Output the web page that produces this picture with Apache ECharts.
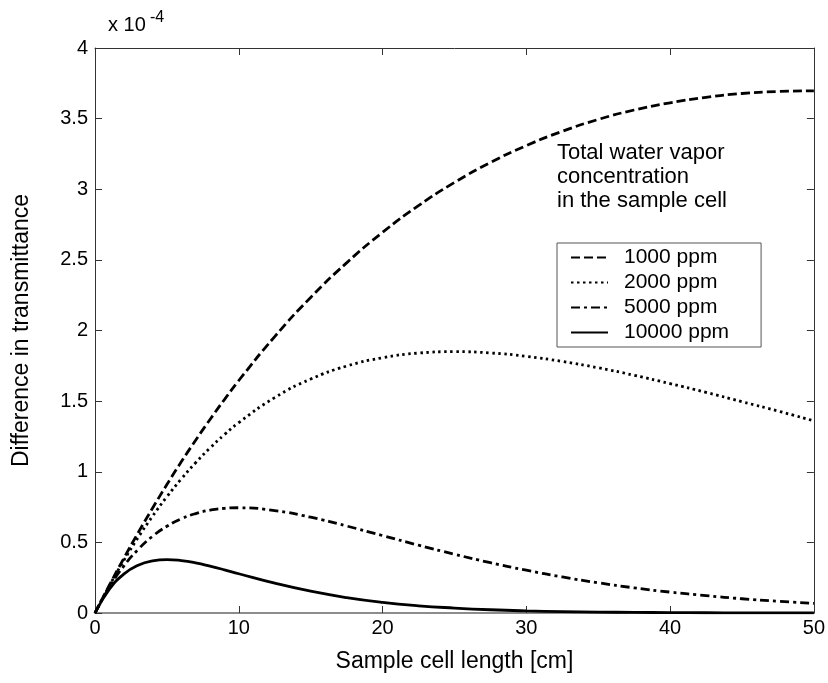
<!DOCTYPE html>
<html>
<head>
<meta charset="utf-8">
<script src="https://cdn.jsdelivr.net/npm/echarts@6/dist/echarts.min.js"></script>
<style>
  html, body { margin: 0; padding: 0; background: #fff; }
  #chart { width: 828px; height: 683px; }
</style>
</head>
<body>
<div id="chart"></div>
<script>
// Sample cell length [cm]
const cellLength = [0, 1, 2, 3, 4, 5, 6, 7, 8, 9, 10, 12.5, 15, 17.5, 20, 22.5, 25, 27.5, 30,
  32.5, 35, 37.5, 40, 42.5, 45, 47.5, 50];

// Difference in transmittance, in units of 1e-4
const ppm1000 = [0, 0.197, 0.386, 0.568, 0.742, 0.909, 1.070, 1.223, 1.370, 1.511, 1.646,
  1.957, 2.234, 2.479, 2.695, 2.884, 3.048, 3.189, 3.309, 3.410, 3.494, 3.561, 3.612,
  3.651, 3.678, 3.692, 3.697];
const ppm2000 = [0, 0.193, 0.371, 0.535, 0.685, 0.823, 0.949, 1.064, 1.168, 1.263, 1.348,
  1.525, 1.656, 1.748, 1.807, 1.840, 1.850, 1.841, 1.817, 1.781, 1.736, 1.683, 1.624,
  1.562, 1.496, 1.430, 1.360];
const ppm5000 = [0, 0.183, 0.332, 0.450, 0.543, 0.614, 0.667, 0.704, 0.728, 0.741, 0.745,
  0.725, 0.678, 0.616, 0.548, 0.480, 0.416, 0.356, 0.303, 0.255, 0.214, 0.178, 0.148,
  0.123, 0.101, 0.083, 0.068];
const ppm10000 = [0, 0.168, 0.275, 0.338, 0.369, 0.378, 0.371, 0.355, 0.332, 0.306, 0.278,
  0.211, 0.154, 0.109, 0.075, 0.051, 0.035, 0.023, 0.015, 0.010, 0.0065, 0.0042, 0.0028,
  0.0017, 0.0011, 0.0007, 0.0005];

const seriesNames = ['1000 ppm', '2000 ppm', '5000 ppm', '10000 ppm'];
const xTicks = [0, 10, 20, 30, 40, 50];
const yTicks = [0, 0.5, 1, 1.5, 2, 2.5, 3, 3.5, 4];

const FONT = 'Liberation Sans, Arial, Helvetica, sans-serif';
const INK = '#000';

const pairs = ys => cellLength.map((x, i) => [x, ys[i]]);

const dashStyles = [
  [9, 4],        // dashed
  [2.5, 3.5],    // dotted
  [9, 4, 3, 4],  // dash-dot
  'solid'
];
const values = [ppm1000, ppm2000, ppm5000, ppm10000];

const chart = echarts.init(document.getElementById('chart'), null, { renderer: 'canvas' });

const frameAxis = {
  axisLine: { show: true, onZero: false, lineStyle: { color: '#333', width: 1 } },
  axisTick: { show: true, inside: true, length: 7, lineStyle: { color: '#333', width: 1 } },
  splitLine: { show: false }
};

chart.setOption({
  animation: false,
  backgroundColor: '#fff',
  grid: { left: 95, right: 14, top: 48, bottom: 70, containLabel: false },
  xAxis: [
    Object.assign({}, frameAxis, {
      type: 'value', min: xTicks[0], max: xTicks[xTicks.length - 1], interval: 10,
      position: 'bottom',
      axisLine: { show: true, onZero: false, lineStyle: { color: '#8c8c8c', width: 2 } },
      axisLabel: { show: true, margin: 5, color: INK, fontFamily: FONT, fontSize: 20 },
      name: 'Sample cell length [cm]', nameLocation: 'middle', nameGap: 37,
      nameTextStyle: { color: INK, fontFamily: FONT, fontSize: 23 }
    }),
    Object.assign({}, frameAxis, {
      type: 'value', min: xTicks[0], max: xTicks[xTicks.length - 1], interval: 10,
      position: 'top', axisLabel: { show: false }
    })
  ],
  yAxis: [
    Object.assign({}, frameAxis, {
      type: 'value', min: yTicks[0], max: yTicks[yTicks.length - 1], interval: 0.5,
      position: 'left',
      axisLabel: { show: true, margin: 7, color: INK, fontFamily: FONT, fontSize: 20 },
      name: 'Difference in transmittance', nameLocation: 'middle', nameGap: 62,
      nameTextStyle: { color: INK, fontFamily: FONT, fontSize: 23 }
    }),
    Object.assign({}, frameAxis, {
      type: 'value', min: yTicks[0], max: yTicks[yTicks.length - 1], interval: 0.5,
      position: 'right', axisLabel: { show: false }
    })
  ],
  legend: {
    orient: 'vertical',
    left: 557, top: 243,
    data: seriesNames,
    itemWidth: 37, itemHeight: 14, itemGap: 4,
    padding: [4, 32, 4, 13],
    backgroundColor: '#fff',
    borderColor: '#555', borderWidth: 1, borderRadius: 0,
    itemStyle: { color: 'transparent', borderColor: 'transparent', borderWidth: 0, opacity: 0 },
    textStyle: { color: INK, fontFamily: FONT, fontSize: 21, lineHeight: 20, padding: [0, 0, 0, 11] }
  },
  graphic: [
    {
      type: 'text', left: 108, top: 15,
      style: { text: 'x 10', fill: INK, font: '20px ' + FONT }
    },
    {
      type: 'text', left: 150, top: 10,
      style: { text: '-4', fill: INK, font: '16px ' + FONT }
    },
    {
      type: 'text', left: 557, top: 141,
      style: {
        text: 'Total water vapor\nconcentration\nin the sample cell',
        fill: INK, font: '22px ' + FONT, lineHeight: 24
      }
    }
  ],
  series: seriesNames.map((name, k) => ({
    name: name,
    type: 'line',
    xAxisIndex: 0, yAxisIndex: 0,
    data: pairs(values[k]),
    symbol: 'none',
    smooth: 0.5,
    clip: true,
    lineStyle: { color: INK, width: 2.8, type: dashStyles[k], cap: 'butt' },
    itemStyle: { color: INK },
    z: 3
  }))
});
</script>
</body>
</html>
